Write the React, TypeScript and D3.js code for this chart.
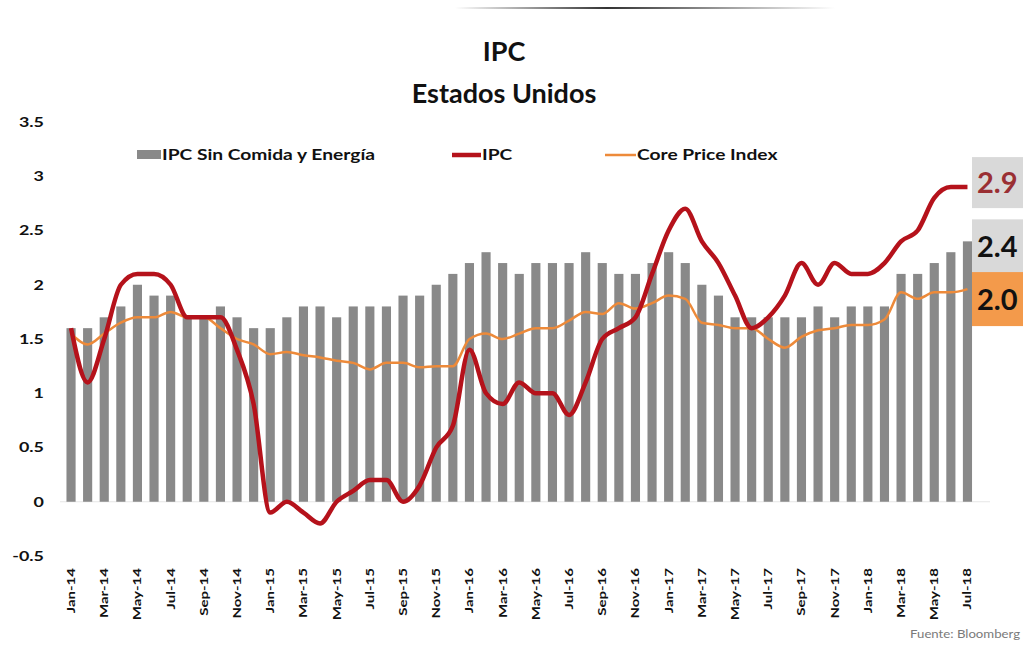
import React, { useEffect, useRef } from "react";
import * as d3 from "d3";

const months = [
  "Jan-14", "Feb-14", "Mar-14", "Apr-14", "May-14", "Jun-14", "Jul-14", "Aug-14", "Sep-14", "Oct-14", "Nov-14", "Dec-14",
  "Jan-15", "Feb-15", "Mar-15", "Apr-15", "May-15", "Jun-15", "Jul-15", "Aug-15", "Sep-15", "Oct-15", "Nov-15", "Dec-15",
  "Jan-16", "Feb-16", "Mar-16", "Apr-16", "May-16", "Jun-16", "Jul-16", "Aug-16", "Sep-16", "Oct-16", "Nov-16", "Dec-16",
  "Jan-17", "Feb-17", "Mar-17", "Apr-17", "May-17", "Jun-17", "Jul-17", "Aug-17", "Sep-17", "Oct-17", "Nov-17", "Dec-17",
  "Jan-18", "Feb-18", "Mar-18", "Apr-18", "May-18", "Jun-18", "Jul-18",
];

// IPC sin comida y energía (barras)
const coreCpi = [
  1.6, 1.6, 1.7, 1.8, 2.0, 1.9, 1.9, 1.7, 1.7, 1.8, 1.7, 1.6,
  1.6, 1.7, 1.8, 1.8, 1.7, 1.8, 1.8, 1.8, 1.9, 1.9, 2.0, 2.1,
  2.2, 2.3, 2.2, 2.1, 2.2, 2.2, 2.2, 2.3, 2.2, 2.1, 2.1, 2.2,
  2.3, 2.2, 2.0, 1.9, 1.7, 1.7, 1.7, 1.7, 1.7, 1.8, 1.7, 1.8,
  1.8, 1.8, 2.1, 2.1, 2.2, 2.3, 2.4,
];

// IPC (línea roja)
const cpi = [
  1.6, 1.1, 1.5, 2.0, 2.1, 2.1, 2.0, 1.7, 1.7, 1.7, 1.4, 0.9,
  -0.1, 0.0, -0.1, -0.2, 0.0, 0.1, 0.2, 0.2, 0.0, 0.15, 0.5, 0.7,
  1.4, 1.0, 0.9, 1.1, 1.0, 1.0, 0.8, 1.1, 1.5, 1.6, 1.7, 2.1,
  2.5, 2.7, 2.4, 2.2, 1.9, 1.6, 1.7, 1.9, 2.2, 2.0, 2.2, 2.1,
  2.1, 2.2, 2.4, 2.5, 2.8, 2.9, 2.9,
];

// Core Price Index (línea naranja)
const corePce = [
  1.55, 1.45, 1.55, 1.65, 1.7, 1.7, 1.75, 1.7, 1.7, 1.6, 1.5, 1.45,
  1.36, 1.38, 1.35, 1.33, 1.3, 1.28, 1.22, 1.28, 1.28, 1.24, 1.25, 1.25,
  1.5, 1.55, 1.5, 1.55, 1.6, 1.6, 1.67, 1.75, 1.73, 1.83, 1.78, 1.83,
  1.9, 1.87, 1.65, 1.63, 1.6, 1.6, 1.5, 1.42, 1.52, 1.58, 1.6, 1.63,
  1.63, 1.68, 1.93, 1.87, 1.93, 1.93, 1.96,
];

const yTicks = [-0.5, 0, 0.5, 1, 1.5, 2, 2.5, 3, 3.5];

const W = 1023;
const H = 647;
const FONT = "Lato, 'Open Sans', sans-serif";
const SX = 1.28; // the original text looks stretched sideways

export default function App() {
  const ref = useRef<SVGSVGElement>(null);

  useEffect(() => {
    const svg = d3.select(ref.current);
    svg.selectAll("*").remove();

    const x = d3.scaleBand<string>()
      .domain(months)
      .range([59, 979.5])
      .padding(0.45);
    const y = d3.scaleLinear().domain([-0.5, 3.5]).range([556, 122]);
    const cx = (m: string) => (x(m) as number) + x.bandwidth() / 2;

    // decorative top rule
    const grad = svg.append("defs").append("linearGradient").attr("id", "topline");
    grad.append("stop").attr("offset", "0%").attr("stop-color", "#fff");
    grad.append("stop").attr("offset", "40%").attr("stop-color", "#333");
    grad.append("stop").attr("offset", "100%").attr("stop-color", "#fff");
    svg.append("rect").attr("x", 455).attr("y", 7).attr("width", 380).attr("height", 2).attr("fill", "url(#topline)");

    // title
    svg.append("text").attr("x", 504).attr("y", 61).attr("text-anchor", "middle")
      .style("font", `bold 27px ${FONT}`).attr("fill", "#111").text("IPC");
    svg.append("text").attr("x", 504).attr("y", 103).attr("text-anchor", "middle")
      .style("font", `bold 27px ${FONT}`).attr("fill", "#111").text("Estados Unidos");

    // y axis labels
    svg.append("g").selectAll("text").data(yTicks).enter().append("text")
      .attr("transform", d => `translate(44,${y(d)}) scale(${SX},1)`)
      .attr("dy", "0.35em").attr("text-anchor", "end")
      .style("font", `bold 14px ${FONT}`).attr("fill", "#111")
      .text(d => String(d));

    // baseline
    svg.append("line").attr("x1", 60).attr("x2", 990).attr("y1", y(0)).attr("y2", y(0))
      .attr("stroke", "#e6e6e6").attr("stroke-width", 1);

    // bars
    svg.append("g").selectAll("rect").data(coreCpi).enter().append("rect")
      .attr("x", (d, i) => x(months[i]) as number)
      .attr("y", d => y(d))
      .attr("width", x.bandwidth())
      .attr("height", d => y(0) - y(d))
      .attr("fill", "#898989");

    const line = d3.line<number>()
      .x((d, i) => cx(months[i]))
      .y(d => y(d))
      .curve(d3.curveMonotoneX);

    svg.append("path").datum(corePce).attr("d", line).attr("fill", "none")
      .attr("stroke", "#ed8a3a").attr("stroke-width", 2.5).attr("stroke-linejoin", "round");
    svg.append("path").datum(cpi).attr("d", line).attr("fill", "none")
      .attr("stroke", "#b5121b").attr("stroke-width", 4.5).attr("stroke-linejoin", "round");

    // x labels every other month
    svg.append("g").selectAll("text").data(months.filter((m, i) => i % 2 === 0)).enter().append("text")
      .attr("transform", d => `translate(${cx(d) + 4},568) rotate(-90) scale(1.25,1)`)
      .attr("text-anchor", "end")
      .style("font", `bold 12px ${FONT}`).attr("fill", "#111")
      .text(d => d);

    // legend
    const lg = svg.append("g").style("font", `bold 15px ${FONT}`).attr("fill", "#111");
    const lgText = (x0: number, label: string) =>
      lg.append("text").attr("transform", `translate(${x0},160) scale(${SX},1)`).text(label);
    lg.append("rect").attr("x", 137).attr("y", 150).attr("width", 24).attr("height", 9).attr("fill", "#898989");
    lgText(162, "IPC Sin Comida y Energía");
    lg.append("line").attr("x1", 452).attr("x2", 481).attr("y1", 155).attr("y2", 155)
      .attr("stroke", "#b5121b").attr("stroke-width", 4.5);
    lgText(482, "IPC");
    lg.append("line").attr("x1", 605).attr("x2", 636).attr("y1", 155).attr("y2", 155)
      .attr("stroke", "#ed8a3a").attr("stroke-width", 2.5);
    lgText(637, "Core Price Index");

    // end value labels
    const last = months.length - 1;
    const labels = [
      { v: cpi[last], top: y(cpi[last]) - 30, h: 51, bg: "#d9d9d9", fg: "#9a2f33" },
      { v: coreCpi[last], top: y(coreCpi[last]) - 22, h: 55, bg: "#d9d9d9", fg: "#111" },
      { v: corePce[last], top: y(corePce[last]) - 17, h: 54, bg: "#f39a4b", fg: "#111" },
    ];
    labels.forEach(l => {
      svg.append("rect").attr("x", 972).attr("y", l.top).attr("width", 55).attr("height", l.h).attr("fill", l.bg);
      svg.append("text").attr("x", 977).attr("y", l.top + l.h / 2).attr("dy", "0.36em")
        .style("font", `bold 29px ${FONT}`).attr("fill", l.fg).text(l.v.toFixed(1));
    });

    svg.append("text").attr("transform", `translate(1020,638) scale(1.2,1)`).attr("text-anchor", "end")
      .style("font", `11px ${FONT}`).attr("fill", "#7a7a7a").text("Fuente: Bloomberg");
  }, []);

  return (
    <svg ref={ref} width={W} height={H} style={{ position: "absolute", left: 0, top: 0, background: "#fff" }} />
  );
}
